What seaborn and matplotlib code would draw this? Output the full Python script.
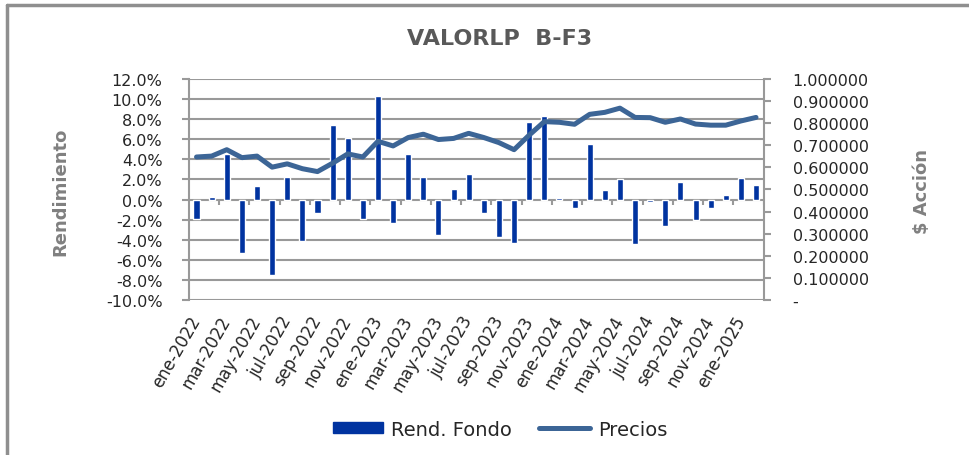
import numpy as np
import pandas as pd
import seaborn as sns
import matplotlib.pyplot as plt
from matplotlib.lines import Line2D
from matplotlib.patches import Patch
from matplotlib.ticker import FuncFormatter

# datos mensuales (ene-2022 .. feb-2025)
meses = ['ene-2022', 'feb-2022', 'mar-2022', 'abr-2022', 'may-2022', 'jun-2022',
         'jul-2022', 'ago-2022', 'sep-2022', 'oct-2022', 'nov-2022', 'dic-2022',
         'ene-2023', 'feb-2023', 'mar-2023', 'abr-2023', 'may-2023', 'jun-2023',
         'jul-2023', 'ago-2023', 'sep-2023', 'oct-2023', 'nov-2023', 'dic-2023',
         'ene-2024', 'feb-2024', 'mar-2024', 'abr-2024', 'may-2024', 'jun-2024',
         'jul-2024', 'ago-2024', 'sep-2024', 'oct-2024', 'nov-2024', 'dic-2024',
         'ene-2025', 'feb-2025']
rend = [-1.9, 0.3, 4.5, -5.3, 1.3, -7.5, 2.2, -4.1, -1.3, 7.4, 6.1, -1.9,
        10.3, -2.3, 4.5, 2.2, -3.5, 1.0, 2.5, -1.3, -3.7, -4.3, 7.7, 8.3,
        0.2, -0.8, 5.5, 0.9, 2.0, -4.4, -0.2, -2.6, 1.7, -2.0, -0.8, 0.4,
        2.1, 1.4]
precios = [0.647, 0.651, 0.680, 0.644, 0.651, 0.601, 0.616, 0.594, 0.581, 0.619,
           0.661, 0.647, 0.718, 0.697, 0.735, 0.750, 0.726, 0.731, 0.754, 0.735,
           0.712, 0.680, 0.746, 0.807, 0.804, 0.795, 0.840, 0.849, 0.868, 0.826,
           0.825, 0.804, 0.819, 0.796, 0.791, 0.791, 0.810, 0.826]

bar_c = '#0033a0'
line_c = '#3c6596'
grid_c = '#999999'

df = pd.DataFrame({'Mes': meses, 'Rend': rend, 'Precio': precios})
df['i'] = np.arange(len(df))

sns.set_style('white')
plt.rcParams['font.family'] = ['DejaVu Sans']

fig = plt.figure(figsize=(9.69, 4.56), dpi=100)
ax = fig.add_axes([0.195, 0.340, 0.593, 0.4846])
sns.barplot(data=df, x='Mes', y='Rend', color=bar_c, width=0.4, saturation=1, ax=ax, zorder=3)
ax.set_xlim(-0.5, len(df) - 0.5)
ax.set_ylim(-10, 12)
ax.set_yticks(range(-10, 13, 2))
ax.yaxis.set_major_formatter(FuncFormatter(lambda v, p: f'{v:.1f}%'))
ax.grid(axis='y', color=grid_c, lw=1.5)
ax.set_axisbelow(True)
# marcas del eje de categorias sobre el cero
ax.vlines(np.arange(1.5, len(df), 2), -0.5, 0, color=grid_c, lw=1.5, zorder=2)
ax.set_xticks(range(0, len(df), 2))
ax.set_xticklabels(meses[::2], rotation=60, ha='right', va='center', rotation_mode='anchor', fontsize=12)
ax.tick_params(axis='x', length=0, pad=12)
ax.tick_params(axis='y', left=True, length=5, width=1.5, color=grid_c, labelsize=11.5, pad=14)
ax.set_xlabel('')
ax.set_ylabel('')

ax2 = ax.twinx()
sns.lineplot(data=df, x='i', y='Precio', color=line_c, lw=3.6, ax=ax2)
ax2.set_ylim(0, 1)
ax2.set_yticks(np.arange(0, 1.01, 0.1))
ax2.yaxis.set_major_formatter(FuncFormatter(lambda v, p: '-' if abs(v) < 1e-9 else f'{v:.6f}'))
ax2.tick_params(axis='y', right=True, length=5, width=1.5, color=grid_c, labelsize=11.5, pad=16)
ax2.set_xlabel('')
ax2.set_ylabel('')

for a in (ax, ax2):
    a.spines['top'].set_visible(False)
    a.spines['bottom'].set_visible(False)
    for s in ('left', 'right'):
        a.spines[s].set_color(grid_c)
        a.spines[s].set_linewidth(1.5)
ax2.spines['left'].set_visible(False)
ax.spines['right'].set_visible(False)

fig.text(0.516, 0.9145, 'VALORLP  B-F3', ha='center', va='center', fontsize=16,
         fontweight='bold', color='#595959')
fig.text(0.0625, 0.58, 'Rendimiento', rotation=90, ha='center', va='center', fontsize=13,
         fontweight='bold', color='#808080')
fig.text(0.952, 0.58, '$ Acción', rotation=90, ha='center', va='center', fontsize=13,
         fontweight='bold', color='#808080')

handles = [Patch(color=bar_c), Line2D([], [], color=line_c, lw=3.6)]
fig.legend(handles, ['Rend. Fondo', 'Precios'], loc='center', bbox_to_anchor=(0.516, 0.057),
           ncol=2, frameon=False, fontsize=14, handlelength=2.6, handleheight=0.5,
           columnspacing=1.4, handletextpad=0.4)

# borde del grafico
fig.add_artist(Line2D([0.0072, 1], [0.987, 0.987], color='#8f8f8f', lw=2.5, transform=fig.transFigure))
fig.add_artist(Line2D([0.0072, 0.0072], [0, 0.987], color='#8f8f8f', lw=2.5, transform=fig.transFigure))

fig.savefig('out.png', dpi=100)
